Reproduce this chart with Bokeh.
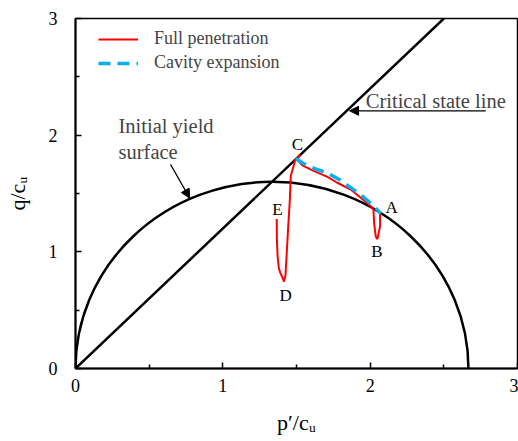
from bokeh.plotting import figure
from bokeh.models import Label, Arrow, NormalHead, Legend, LegendItem, FixedTicker, Range1d
from bokeh.embed import file_html
from bokeh.resources import INLINE

# ---- data ----
# Full penetration stress path (p'/cu, q/cu)
fp_p = [2.067, 2.067, 2.049, 2.038, 2.027, 2.022, 2.004, 1.936, 1.868, 1.777, 1.71, 1.619,
        1.54, 1.506, 1.524, 1.49, 1.461, 1.455, 1.443, 1.432, 1.425, 1.415, 1.405, 1.39,
        1.38, 1.372, 1.367, 1.366]
fp_q = [1.328, 1.218, 1.109, 1.132, 1.247, 1.362, 1.39, 1.463, 1.534, 1.592, 1.643, 1.692,
        1.741, 1.787, 1.836, 1.78, 1.65, 1.45, 1.2, 0.95, 0.80, 0.745, 0.78, 0.82,
        0.86, 0.96, 1.10, 1.282]
# Cavity expansion stress path
cav_p = [1.495, 1.55, 1.63, 1.71, 1.79, 1.868, 1.936, 1.99, 2.027, 2.072]
cav_q = [1.80, 1.755, 1.71, 1.675, 1.62, 1.55, 1.49, 1.43, 1.39, 1.328]
# Critical state line (slope M = 1.2)
csl_p = [0.0, 2.5]
csl_q = [0.0, 3.0]
# Initial yield surface (ellipse): p0 and peak q
ys_p0 = 2.667
ys_qpeak = 1.6
# point labels
pt_names = ["A", "B", "C", "D", "E"]
pt_p = [2.145, 2.045, 1.506, 1.427, 1.37]
pt_q = [1.377, 1.003, 1.922, 0.629, 1.362]
ticks = [0, 1, 2, 3]
minor = [0.5, 1.5, 2.5]

FONT = "Liberation Serif"

p = figure(width=518, height=441, output_backend="svg", toolbar_location=None,
           x_range=Range1d(0, 3), y_range=Range1d(0, 3),
           min_border_left=75, min_border_right=1, min_border_top=18, min_border_bottom=73)
p.xgrid.visible = False
p.ygrid.visible = False
p.outline_line_color = "black"
p.outline_line_width = 1.5
p.background_fill_color = "white"
p.border_fill_color = "white"

for ax in (p.xaxis[0], p.yaxis[0]):
    ax.ticker = FixedTicker(ticks=ticks, minor_ticks=minor)
    ax.axis_line_width = 2
    ax.axis_line_color = "black"
    ax.major_tick_in = 6
    ax.major_tick_out = 0
    ax.minor_tick_in = 4
    ax.minor_tick_out = 0
    ax.major_tick_line_width = 1.5
    ax.minor_tick_line_width = 1.5
    ax.major_label_text_font = FONT
    ax.major_label_text_font_size = "18px"
    ax.major_label_text_color = "black"
    ax.axis_label_text_font = FONT
    ax.axis_label_text_font_size = "22px"
    ax.axis_label_text_font_style = "normal"
    ax.axis_label_text_color = "black"
p.xaxis.major_label_standoff = 10
p.yaxis.major_label_standoff = 18
p.xaxis.axis_label = "p\u2032/c\u1d64"
p.yaxis.axis_label = "q/c\u1d64"
p.xaxis.axis_label_standoff = 15
p.yaxis.axis_label_standoff = 16

# yield surface
p.ellipse(x=[ys_p0 / 2], y=[0], width=[ys_p0], height=[2 * ys_qpeak],
          fill_alpha=0, line_color="black", line_width=2.5)
# critical state line
p.line(csl_p, csl_q, line_color="black", line_width=2.5)

r_fp = p.line(fp_p, fp_q, line_color="#ff0000", line_width=2)
r_cav = p.line(cav_p, cav_q, line_color="#00b0f0", line_width=3.5, line_dash="12 7")

legend = Legend(items=[LegendItem(label="Full penetration", renderers=[r_fp]),
                       LegendItem(label="Cavity expansion", renderers=[r_cav])],
                location=(23, 295), margin=0, padding=0, spacing=3,
                glyph_width=40, glyph_height=20, label_height=20, label_standoff=16,
                label_text_font=FONT, label_text_font_size="18px",
                border_line_alpha=0, background_fill_alpha=0)
p.add_layout(legend)

for n, x, y in zip(pt_names, pt_p, pt_q):
    p.add_layout(Label(x=x, y=y, text=n, text_align="center", text_baseline="middle",
                       text_font=FONT, text_font_size="17px", text_color="black"))

p.add_layout(Label(x=1.97, y=2.296, text="Critical state line", text_align="left",
                   text_baseline="middle", text_font=FONT, text_font_size="20.5px"))
p.add_layout(Arrow(x_start=2.785, y_start=2.209, x_end=1.86, y_end=2.209, line_width=1.2,
                   end=NormalHead(size=9, fill_color="black", line_color="black")))
p.add_layout(Label(x=0.292, y=2.08, text="Initial yield", text_align="left",
                   text_baseline="middle", text_font=FONT, text_font_size="20.5px"))
p.add_layout(Label(x=0.292, y=1.853, text="surface", text_align="left",
                   text_baseline="middle", text_font=FONT, text_font_size="20.5px"))
p.add_layout(Arrow(x_start=0.645, y_start=1.75, x_end=0.775, y_end=1.46, line_width=1.2,
                   end=NormalHead(size=9, fill_color="black", line_color="black")))

open("out.html", "w").write(file_html(p, INLINE))
